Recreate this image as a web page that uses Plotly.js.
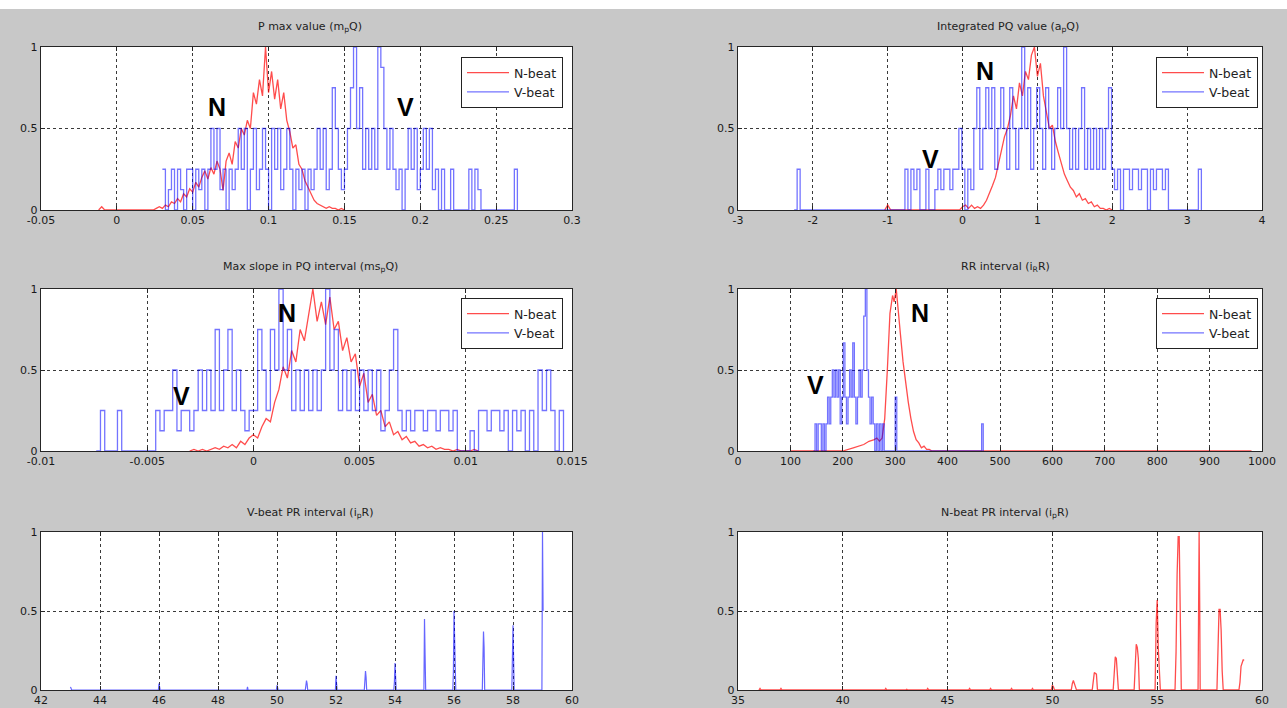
<!DOCTYPE html>
<html><head><meta charset="utf-8">
<script src="https://cdn.plot.ly/plotly-3.0.1.min.js"></script>
<style>html,body{margin:0;padding:0;background:#c8c8c8;} #chart{width:1287px;height:708px;}</style>
</head><body><div id="chart"></div>
<script>
// ---------- DATA ----------
const seriesNames = ['N-beat', 'V-beat'];
const titles = [
  'P max value (m<sub>p</sub>Q)',
  'Integrated PQ value (a<sub>p</sub>Q)',
  'Max slope in PQ interval (ms<sub>p</sub>Q)',
  'RR interval (i<sub>R</sub>R)',
  'V-beat PR interval (i<sub>p</sub>R)',
  'N-beat PR interval (i<sub>p</sub>R)'
];

// Panel 1: P max value — histogram bins start / width
const pmN_start = -0.012, pmN_step = 0.002;
const pmN = [0,0.02,0, 0,0,0,0,0,0,0,0,0,0,0,0,0,0,0,0,
  0.01,0.02,0.01,0.03,0.02,0.05,0.04,0.07,0.05,0.10,0.08,0.13,0.11,0.17,0.14,0.20,0.24,0.19,0.26,0.22,
  0.30,0.25,0.12,0.30,0.35,0.28,0.42,0.38,0.50,0.46,0.55,0.50,0.72,0.65,0.80,0.70,1.00,0.72,0.85,0.68,
  0.80,0.62,0.72,0.55,0.48,0.38,0.40,0.28,0.25,0.18,0.14,0.10,0.06,0.04,0.03,0.02,0.01,0.02,0.01,0.01,0,0.01,0];
const pmV_start = 0.030, pmV_step = 0.002;
const pmV = [0.25,0,0.125,0.25,0,0.25,0.125,0,0.25,0.25,
  0,0.25,0.125,0.25,0,0.25,0.5,0.25,0.5,0.125,
  0.25,0,0.25,0.125,0.25,0.5,0.25,0.5,0,0.25,
  0.5,0.125,0.25,0.5,0.25,0,0.5,0.25,0.5,0.125,
  0.25,0.5,0.25,0,0.25,0.125,0.25,0,0.25,0.125,
  0.25,0.5,0.25,0.5,0.125,0.25,0.75,0.5,0.25,0.125,
  0.25,0.5,0.75,1,0.5,0.75,0.25,0.5,0.25,0.5,
  0.25,1,0.875,0.5,0.25,0.5,0.25,0.125,0.25,0,
  0.25,0.5,0.25,0.5,0.125,0.25,0.5,0.25,0.5,0.125,
  0.25,0,0.25,0,0,0.25,0,0,0,0,
  0,0.25,0,0.25,0.125,0,0,0,0,0,
  0,0,0,0,0,0,0.25,0];

// Panel 2: Integrated PQ value
const ipN_start = -1.04, ipN_step = 0.04;
const ipN = [0,0.03,0, 0,0,0,0,0,0,0,0,0,0,0,0,0,0,0,0,0,0,0,0,0,0,0,
  0.02,0.03,0.01,0.03,0.01,0.02,0.01,0.03,0.06,0.10,0.15,0.20,0.28,0.35,0.45,0.50,0.58,0.70,0.62,0.78,
  0.70,0.85,0.80,0.95,1.00,0.82,0.90,0.70,0.60,0.50,0.52,0.42,0.35,0.28,0.22,0.18,0.14,0.12,0.08,0.10,
  0.06,0.07,0.04,0.05,0.02,0.03,0.01,0.01,0,0.01,0];
const ipV_start = -2.25, ipV_step = 0.04;
const ipV = [0,0.25,0,
  0,0,0,0,0,0,0,0,0,0,0,0,0,0,0,0,0,0,0,0,0,0,0,0,0,0,0,0,0,0,0,0,0,0,
  0.25,0,0.25,0.125,0.25,0,0,0.25,0,0,
  0.125,0.25,0.125,0.25,0.25,0.125,0.25,0.25,0.5,0.25,
  0,0.25,0.125,0.5,0.75,0.25,0.5,0.75,0.5,0.75,
  0.25,0.5,0.75,0.5,0.25,0.75,0.5,0.25,0.5,1,
  0.5,0.75,0.25,0.5,0.75,0.5,0.25,0.75,0.5,0.25,
  0.5,0.75,0.5,1,0.5,0.25,0.5,0.25,0.5,0.75,
  0.25,0.5,0.25,0.5,0.25,0.5,0.25,0.5,0.75,0.25,
  0.125,0.25,0,0.25,0.25,0.125,0.25,0.25,0.125,0.25,
  0.25,0,0.25,0.125,0.25,0.25,0.125,0.25,0,0,
  0,0,0,0,0,0,0,0,0.25,0];

// Panel 3: Max slope in PQ interval
const msN_start = -0.003, msN_step = 0.0002;
const msN = [0,0.01,0,0.01,0,0.01,0.02,0.01,0.03,0.02,0.04,0.02,0.06,0.04,0.08,
  0.10,0.08,0.15,0.20,0.18,0.30,0.38,0.52,0.45,0.62,0.55,0.75,0.68,0.85,1.00,
  0.80,0.92,0.78,0.95,0.75,0.80,0.62,0.70,0.55,0.60,0.40,0.48,0.30,0.35,0.22,
  0.25,0.15,0.18,0.10,0.12,0.07,0.09,0.05,0.06,0.03,0.04,0.02,0.03,0.01,0.02,
  0.01,0.01,0,0.01,0,0,0,0.01,0];
const msV_start = -0.0074, msV_step = 0.0002;
const msV = [0,0.25,0,0,0,0.25,0, 0,0,0,0,0,0,0,
  0.25,0.125,0.25,0.25,0.5,0.125,0.25,0.25,0.125,0.25,
  0.5,0.25,0.5,0.25,0.75,0.25,0.5,0.75,0.25,0.5,
  0.25,0.125,0.25,0.25,0.75,0.5,0.25,0.75,0.5,1,
  0.5,0.75,0.25,0.5,0.25,0.5,0.25,0.5,0.25,0.5,
  1,0.5,0.75,0.25,0.5,0.25,0.5,0.25,0.5,0.25,
  0.5,0.25,0.5,0.125,0.25,0.5,0.75,0.25,0.125,0.25,
  0.125,0.25,0.25,0.125,0.25,0.25,0.125,0.25,0.25,0.125,
  0.25,0,0,0,0.125,0,0.25,0.25,0.125,0.25,
  0.25,0.125,0.25,0,0.25,0.125,0.25,0,0.25,0,
  0.5,0.25,0.5,0.25,0,0.25,0];

// Panel 4: RR interval
const rrN_x = [100,200,220,240,250,260,265,270,275,280,285,290,295,298,302,306,310,315,320,325,330,335,340,345,350,355,360,365,370,980];
const rrN_y = [0,0,0.02,0.04,0.06,0.07,0.08,0.06,0.08,0.2,0.5,0.85,0.96,0.92,1.0,0.88,0.72,0.55,0.42,0.3,0.2,0.12,0.07,0.05,0.02,0.03,0.01,0.01,0,0];
const rrV_start = 144, rrV_step = 3;
const rrV = [0,0.167,0,0.167,0.167,0,0.167,0,0.167,0.333,
  0.167,0.333,0.5,0.333,0.5,0.333,0.5,0.167,0.333,0.667,
  0.333,0.167,0.333,0.5,0.333,0.667,0.333,0.167,0.333,0.5,
  0.333,0.5,0.833,1,0.5,0.333,0.167,0.333,0.167,0,
  0.167,0,0.167,0,0.167,0,0,0,0,0,
  0,0,0.333,0,0,0,0,0,0,0,
  0,0,0,0,0,0,0,0,0,0,
  0,0,0,0,0,0,0,0,0,0,
  0,0,0,0,0,0,0,0,0,0,
  0,0,0,0,0,0,0,0,0,0,
  0,0,0,0,0,0,0,0.167,0];

// Panel 5: V-beat PR interval
const prV_x = [43,43.02,43.04, 45.98,46,46.02,46.04, 48.98,49,49.02, 49.98,50,50.02,50.04,
  50.96,50.98,51,51.02,51.04, 51.98,52,52.02,52.04, 52.96,52.98,53,53.02,53.04,
  53.96,53.98,54,54.02,54.04, 54.98,55,55.02,55.04, 55.96,55.98,56,56.02,56.04,56.06,
  56.96,56.98,57,57.02,57.04, 57.96,57.98,58,58.02,58.04, 58.98,59,59.02];
const prV_y = [0.02,0.01,0, 0,0.04,0.02,0, 0,0.02,0, 0,0.03,0.01,0,
  0,0.03,0.06,0.04,0, 0,0.09,0.04,0, 0,0.05,0.12,0.08,0,
  0,0.05,0.17,0.1,0, 0,0.45,0.22,0, 0,0.12,0.5,0.38,0.22,0,
  0,0.18,0.37,0.27,0, 0,0.2,0.41,0.2,0, 0,1.0,0.5];

// Panel 6: N-beat PR interval
const prN_x = [36,36.05,36.1, 37,37.05,37.1, 42,42.05,42.1, 43,43.05,43.1, 44,44.05,44.1,
  46,46.05,46.1, 47,47.05,47.1, 48,48.05,48.1, 49,49.05,49.1, 49.95,50,50.05,50.1,
  50.9,50.95,51,51.1,51.15, 51.9,51.95,52,52.1,52.15, 52.9,52.95,53,53.05,53.1,53.15,
  53.9,53.95,54,54.05,54.1,54.15, 54.9,54.95,55,55.05,55.1,55.15,
  55.85,55.9,55.95,56,56.05,56.1,56.15, 56.95,56.97,57,57.03,57.05,
  57.85,57.9,57.95,58,58.05,58.1,58.15, 58.9,58.95,59,59.1,59.15];
const prN_y = [0,0.01,0, 0,0.01,0, 0,0.01,0, 0,0.005,0, 0,0.01,0,
  0,0.01,0, 0,0.01,0, 0,0.01,0, 0,0.01,0, 0,0.03,0.02,0,
  0,0.04,0.06,0.02,0, 0,0.05,0.11,0.1,0, 0,0.1,0.21,0.2,0.12,0,
  0,0.12,0.29,0.27,0.2,0, 0,0.42,0.57,0.27,0.1,0,
  0,0.24,0.73,0.97,0.97,0.5,0, 0,0.5,1.0,0.5,0,
  0,0.38,0.51,0.51,0.38,0.12,0, 0,0.05,0.15,0.19,0.19];

// Axis ticks
const xt1 = [-0.05,0,0.05,0.1,0.15,0.2,0.25,0.3], xl1 = ['-0.05','0','0.05','0.1','0.15','0.2','0.25','0.3'];
const xt2 = [-3,-2,-1,0,1,2,3,4], xl2 = ['-3','-2','-1','0','1','2','3','4'];
const xt3 = [-0.01,-0.005,0,0.005,0.01,0.015], xl3 = ['-0.01','-0.005','0','0.005','0.01','0.015'];
const xt4 = [0,100,200,300,400,500,600,700,800,900,1000], xl4 = ['0','100','200','300','400','500','600','700','800','900','1000'];
const xt5 = [42,44,46,48,50,52,54,56,58,60], xl5 = ['42','44','46','48','50','52','54','56','58','60'];
const xt6 = [35,40,45,50,55,60], xl6 = ['35','40','45','50','55','60'];
const yt = [0,0.5,1], yl = ['0','0.5','1'];

// ---------- LAYOUT ----------
const W = 1287, H = 708;
const colL = [41/W, 572/W], colR = [738/W, 1262/W];
const row = (top, bot) => [1 - bot/H, 1 - top/H];
const r1 = row(47,210), r2 = row(289,451), r3 = row(532,690);
const RED = 'rgba(255,0,0,0.7)', BLUE = 'rgba(0,0,255,0.55)';
const FONT = 'DejaVu Sans';

function ax(domain, anchor, range, tv, tt) {
  return {domain, anchor, range, tickmode:'array', tickvals:tv, ticktext:tt,
    showline:true, mirror:'ticks', linecolor:'#262626', linewidth:1.2,
    ticks:'inside', ticklen:4, tickcolor:'#262626',
    showgrid:true, gridcolor:'#3a3a3a', griddash:'dot', gridwidth:1,
    zeroline:false, fixedrange:true,
    tickfont:{family:FONT, size:11, color:'#1a1a1a'}};
}

function step(start, stepSize) { return {x0:start, dx:stepSize}; }

const traces = [
  Object.assign({y:pmN, xaxis:'x', yaxis:'y', name:seriesNames[0], legend:'legend', type:'scatter', mode:'lines', line:{color:RED, width:1.3}}, step(pmN_start, pmN_step)),
  Object.assign({y:pmV, xaxis:'x', yaxis:'y', name:seriesNames[1], legend:'legend', type:'scatter', mode:'lines', line:{color:BLUE, width:1.3, shape:'hv'}}, step(pmV_start, pmV_step)),
  Object.assign({y:ipN, xaxis:'x2', yaxis:'y2', name:seriesNames[0], legend:'legend2', type:'scatter', mode:'lines', line:{color:RED, width:1.3}}, step(ipN_start, ipN_step)),
  Object.assign({y:ipV, xaxis:'x2', yaxis:'y2', name:seriesNames[1], legend:'legend2', type:'scatter', mode:'lines', line:{color:BLUE, width:1.3, shape:'hv'}}, step(ipV_start, ipV_step)),
  Object.assign({y:msN, xaxis:'x3', yaxis:'y3', name:seriesNames[0], legend:'legend3', type:'scatter', mode:'lines', line:{color:RED, width:1.3}}, step(msN_start, msN_step)),
  Object.assign({y:msV, xaxis:'x3', yaxis:'y3', name:seriesNames[1], legend:'legend3', type:'scatter', mode:'lines', line:{color:BLUE, width:1.3, shape:'hv'}}, step(msV_start, msV_step)),
  {x:rrN_x, y:rrN_y, xaxis:'x4', yaxis:'y4', name:seriesNames[0], legend:'legend4', type:'scatter', mode:'lines', line:{color:RED, width:1.3}},
  Object.assign({y:rrV, xaxis:'x4', yaxis:'y4', name:seriesNames[1], legend:'legend4', type:'scatter', mode:'lines', line:{color:BLUE, width:1.3, shape:'hv'}}, step(rrV_start, rrV_step)),
  {x:prV_x, y:prV_y, xaxis:'x5', yaxis:'y5', name:seriesNames[1], showlegend:false, type:'scatter', mode:'lines', line:{color:'rgba(0,0,255,0.6)', width:1.2}},
  {x:prN_x, y:prN_y, xaxis:'x6', yaxis:'y6', name:seriesNames[0], showlegend:false, type:'scatter', mode:'lines', line:{color:RED, width:1.3}}
];

function leg(xr, ytop) {
  return {x:xr/W, y:1-ytop/H, xanchor:'right', yanchor:'top', bgcolor:'#ffffff',
    bordercolor:'#222', borderwidth:1, itemwidth:42, tracegroupgap:0,
    font:{family:FONT, size:12.5, color:'#222'}};
}

const titleAnn = (text, cx, cy) => ({text, x:cx/W, y:1-cy/H, xref:'paper', yref:'paper', showarrow:false,
  xanchor:'center', yanchor:'middle', font:{family:FONT, size:11, color:'#222'}});
const letter = (t, xref, yref, x, y) => ({text:'<b>'+t+'</b>', xref, yref, x, y, showarrow:false,
  font:{family:'Liberation Sans', size:25, color:'#000'}});

const layout = {
  width: W, height: H, margin:{l:0,r:0,t:0,b:0},
  paper_bgcolor:'#c8c8c8', plot_bgcolor:'#ffffff',
  showlegend:true, hovermode:false,
  xaxis: ax(colL,'y',[-0.05,0.3],xt1,xl1),   yaxis: ax(r1,'x',[0,1],yt,yl),
  xaxis2: ax(colR,'y2',[-3,4],xt2,xl2),      yaxis2: ax(r1,'x2',[0,1],yt,yl),
  xaxis3: ax(colL,'y3',[-0.01,0.015],xt3,xl3), yaxis3: ax(r2,'x3',[0,1],yt,yl),
  xaxis4: ax(colR,'y4',[0,1000],xt4,xl4),    yaxis4: ax(r2,'x4',[0,1],yt,yl),
  xaxis5: ax(colL,'y5',[42,60],xt5,xl5),     yaxis5: ax(r3,'x5',[0,1],yt,yl),
  xaxis6: ax(colR,'y6',[35,60],xt6,xl6),     yaxis6: ax(r3,'x6',[0,1],yt,yl),
  legend: leg(563,57), legend2: leg(1258,57), legend3: leg(563,298), legend4: leg(1258,298),
  shapes:[{type:'rect', xref:'paper', yref:'paper', x0:0, x1:1, y0:1-9/H, y1:1, fillcolor:'#ffffff', line:{width:0}, layer:'below'}],
  annotations:[
    titleAnn(titles[0], 310, 27), titleAnn(titles[1], 1008, 27),
    titleAnn(titles[2], 310, 267), titleAnn(titles[3], 1005, 267),
    titleAnn(titles[4], 310, 513), titleAnn(titles[5], 1005, 513),
    letter('N','x','y',0.066,0.63), letter('V','x','y',0.19,0.63),
    letter('N','x2','y2',0.30,0.85), letter('V','x2','y2',-0.435,0.31),
    letter('N','x3','y3',0.0016,0.85), letter('V','x3','y3',-0.0034,0.34),
    letter('N','x4','y4',347,0.85), letter('V','x4','y4',147,0.41)
  ]
};

Plotly.newPlot('chart', traces, layout, {displayModeBar:false, staticPlot:true});
</script></body></html>
